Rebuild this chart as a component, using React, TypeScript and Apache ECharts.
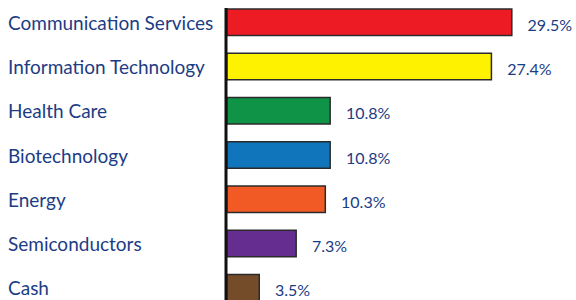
import React, { useEffect, useRef } from "react";
import * as echarts from "echarts";

const categories = [
  "Communication Services",
  "Information Technology",
  "Health Care",
  "Biotechnology",
  "Energy",
  "Semiconductors",
  "Cash",
];
const values = [29.5, 27.4, 10.8, 10.8, 10.3, 7.3, 3.5];
const colors = ["#ed1c24", "#fff200", "#0e9347", "#1175bb", "#f15a24", "#662d91", "#754c29"];

const TEXT = "#1c3c84";
const GRID_LEFT = 226;

export default function App() {
  const ref = useRef<HTMLDivElement>(null);
  useEffect(() => {
    if (!ref.current) return;
    const chart = echarts.init(ref.current, null, { renderer: "svg" });
    chart.setOption({
      animation: false,
      grid: { left: GRID_LEFT, right: 10, top: 0, bottom: 0, containLabel: false },
      xAxis: {
        type: "value",
        min: 0,
        max: 35,
        show: false,
      },
      yAxis: {
        type: "category",
        data: categories,
        inverse: true,
        axisLine: { show: false },
        axisTick: { show: false },
        axisLabel: {
          align: "left",
          margin: GRID_LEFT - 8,
          color: TEXT,
          fontFamily: "Lato",
          fontSize: 19,
          padding: [0, 0, 3, 0],
        },
      },
      graphic: [
        {
          type: "line",
          shape: { x1: GRID_LEFT, y1: 8, x2: GRID_LEFT, y2: 320 },
          style: { stroke: "#111", lineWidth: 3 },
          z: 100,
        },
      ],
      series: [
        {
          type: "bar",
          data: values.map((v, i) => ({ value: v, itemStyle: { color: colors[i] } })),
          barWidth: 28,
          itemStyle: { borderColor: "#2b2b2b", borderWidth: 1.5 },
          label: {
            show: true,
            position: "right",
            distance: 15,
            offset: [0, 2],
            color: TEXT,
            fontFamily: "Lato",
            fontSize: 16,
            formatter: (p: any) => `${p.value.toFixed(1)}%`,
          },
        },
      ],
    });
    return () => chart.dispose();
  }, []);
  return (
    <div
      ref={ref}
      style={{ position: "fixed", left: 0, top: 0, width: 576, height: 310, background: "#fff" }}
    />
  );
}
